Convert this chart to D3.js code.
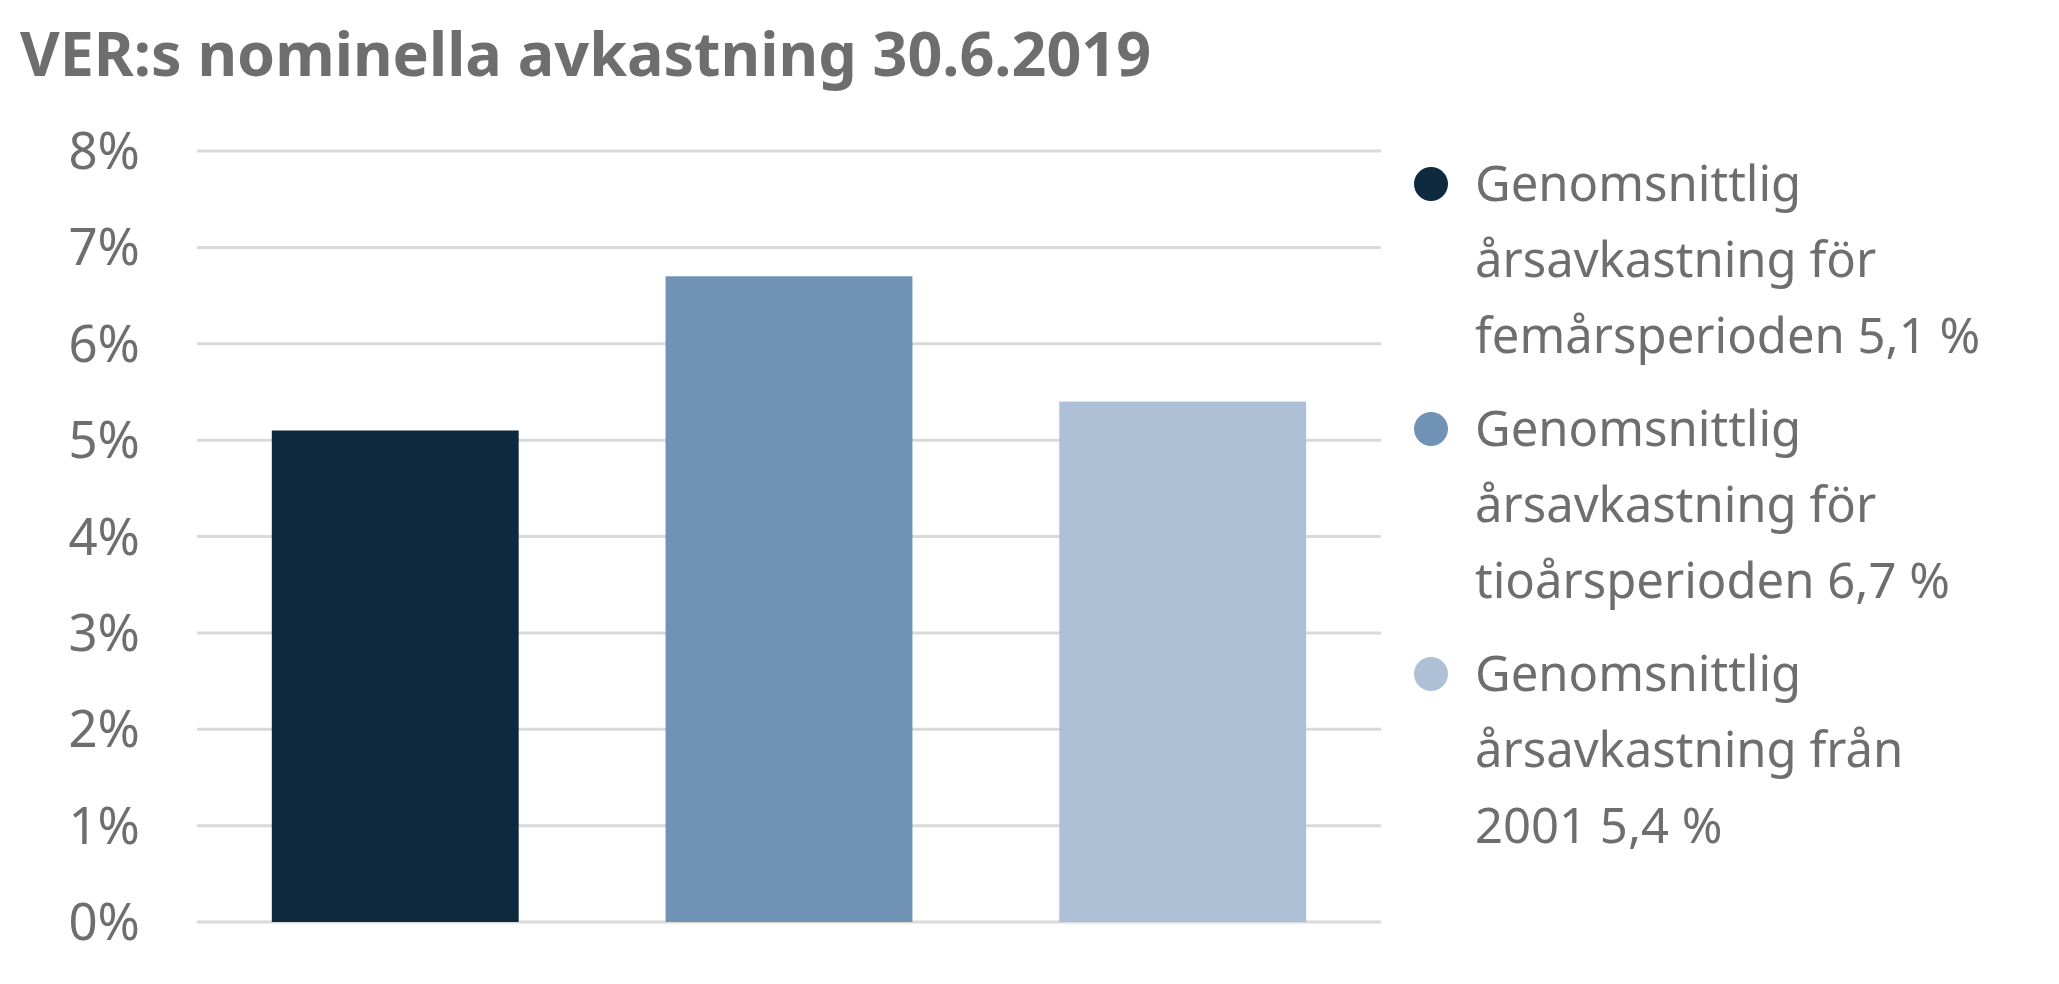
<!DOCTYPE html>
<html><head><meta charset="utf-8">
<script src="https://cdn.jsdelivr.net/npm/d3@7"></script>
<style>body{margin:0;background:#fff}text{font-family:"Noto Sans",Roboto,sans-serif;fill:#6e6e6e}</style>
</head><body>
<svg id="c" width="2059" height="984"></svg>
<script>
const title = "VER:s nominella avkastning 30.6.2019";
const categories = ["5 år", "10 år", "från 2001"];
const values = [5.1, 6.7, 5.4];
const colors = ["#0f2a3f", "#7092b4", "#adc0d6"];
const yTicks = [0,1,2,3,4,5,6,7,8];
const legendLines = [
  ["Genomsnittlig", "årsavkastning för", "femårsperioden 5,1 %"],
  ["Genomsnittlig", "årsavkastning för", "tioårsperioden 6,7 %"],
  ["Genomsnittlig", "årsavkastning från", "2001 5,4 %"]
];
const svg = d3.select("#c");
svg.append("text").attr("x",20).attr("y",76).attr("font-size",61).attr("font-weight","bold").text(title);
const y = d3.scaleLinear().domain([0,8]).range([922,151]);
const x = d3.scaleBand().domain(categories).range([197,1381]).paddingInner(0.373).paddingOuter(0.19);
svg.append("g").selectAll("line").data(yTicks).join("line")
  .attr("x1",197).attr("x2",1381).attr("y1",d=>y(d)).attr("y2",d=>y(d))
  .attr("stroke","#d9d9d9").attr("stroke-width",3);
svg.append("g").selectAll("text").data(yTicks).join("text")
  .attr("x",140).attr("y",d=>y(d)+18).attr("text-anchor","end").attr("font-size",51).text(d=>d+"%");
svg.append("g").selectAll("rect").data(values).join("rect")
  .attr("x",(d,i)=>x(categories[i])).attr("width",x.bandwidth())
  .attr("y",d=>y(d)).attr("height",d=>y(0)-y(d)).attr("fill",(d,i)=>colors[i]);
const lg = svg.append("g").selectAll("g").data(legendLines).join("g")
  .attr("transform",(d,i)=>`translate(0,${184+i*245})`);
lg.append("circle").attr("cx",1431).attr("cy",0).attr("r",17).attr("fill",(d,i)=>colors[i]);
lg.each(function(lines){
  d3.select(this).selectAll("text").data(lines).join("text")
    .attr("x",1475).attr("y",(d,j)=>17+j*76).attr("font-size",49).text(d=>d);
});
</script>
</body></html>
